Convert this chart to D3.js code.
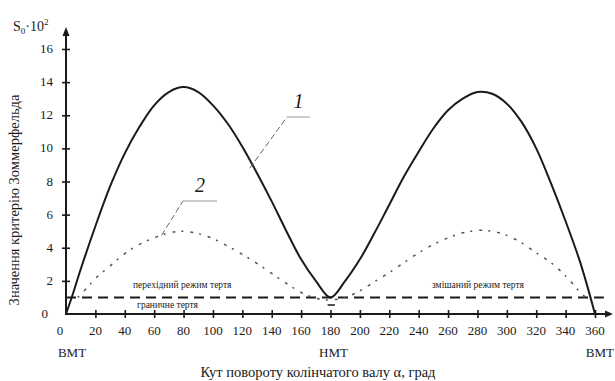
<!DOCTYPE html>
<html><head><meta charset="utf-8">
<script src="https://cdn.jsdelivr.net/npm/d3@7"></script>
<style>body{margin:0;background:#fff} svg text{font-family:"Liberation Serif","Times New Roman",Times,"DejaVu Serif",serif}</style>
</head><body><svg id="c" width="615" height="381"></svg>
<script>
// Data
const angles1 = [0,5,10,20,30,40,50,60,70,80,90,100,110,120,130,140,150,160,170,180,190,200,210,220,230,240,250,260,270,280,290,300,310,320,330,340,350,360];
const sommer1 = [0,1.3,2.7,5.3,7.7,9.7,11.3,12.6,13.4,13.7,13.4,12.6,11.5,10.1,8.5,6.8,5.0,3.3,2.0,1.0,2.0,3.3,4.9,6.6,8.3,9.8,11.2,12.3,13.0,13.4,13.3,12.7,11.6,10.0,7.9,5.6,3.1,0];
const angles2 = [8,15,20,30,40,50,60,70,80,90,100,110,120,130,140,150,160,170,180,190,200,210,220,230,240,250,260,270,280,290,300,310,320,330,340,350,355];
const sommer2 = [1.0,1.65,2.15,2.9,3.65,4.2,4.6,4.9,5.0,4.85,4.55,4.1,3.6,3.05,2.45,1.85,1.3,0.95,0.85,1.0,1.4,1.95,2.5,3.1,3.7,4.2,4.6,4.9,5.05,5.0,4.75,4.3,3.7,3.1,2.3,1.3,0.9];
const boundary = 1.0;
const xTicks = [0,20,40,60,80,100,120,140,160,180,200,220,240,260,280,300,320,340,360];
const yTicks = [0,2,4,6,8,10,12,14,16];
const pointLabels = [{a:0,t:"ВМТ"},{a:180,t:"НМТ"},{a:360,t:"ВМТ"}];

const svg = d3.select("#c");
const x = d3.scaleLinear().domain([0,360]).range([66,595]);
const y = d3.scaleLinear().domain([0,16]).range([314,49]);
const ink = "#1a1a1a";

// axes
const xAxis = svg.append("g").attr("transform",`translate(0,${y(0)})`)
  .call(d3.axisBottom(x).tickValues(xTicks.filter(d=>d>0)).tickSize(0).tickFormat(""));
xAxis.select(".domain").remove();
xAxis.selectAll(".tick").append("line").attr("y1",-4).attr("y2",4).attr("stroke",ink).attr("stroke-width",1.6);
const yAxis = svg.append("g").attr("transform",`translate(${x(0)},0)`)
  .call(d3.axisLeft(y).tickValues(yTicks.filter(d=>d>0)).tickSize(0).tickFormat(""));
yAxis.select(".domain").remove();
yAxis.selectAll(".tick").append("line").attr("x1",-4).attr("x2",4).attr("stroke",ink).attr("stroke-width",1.6);

svg.append("line").attr("x1",x(0)).attr("x2",610).attr("y1",y(0)).attr("y2",y(0)).attr("stroke",ink).attr("stroke-width",2);
svg.append("path").attr("d",`M613,${y(0)} l-8,-3.5 l0,7 z`).attr("fill",ink);
svg.append("line").attr("x1",x(0)).attr("x2",x(0)).attr("y1",y(0)+1).attr("y2",30).attr("stroke",ink).attr("stroke-width",2);
svg.append("path").attr("d",`M${x(0)},27 l-3.5,9 l7,0 z`).attr("fill",ink);

function txt(){ return svg.append("text").attr("fill",ink); }

// tick labels
svg.selectAll(".xl").data(xTicks).enter().append("text")
  .attr("x",d=>d===0?x(d)-6:x(d)).attr("y",335).attr("text-anchor","middle")
  .attr("font-size",13).attr("fill",ink).text(d=>d);
svg.selectAll(".yl").data(yTicks).enter().append("text")
  .attr("x",d=>d===0?48:53).attr("y",d=>y(d)+4).attr("text-anchor","end")
  .attr("font-size",13).attr("fill",ink).text(d=>d);
svg.selectAll(".pl").data(pointLabels).enter().append("text")
  .attr("x",d=>d.a===360?614:(d.a===0?x(d.a)+6:x(d.a)+3)).attr("y",357)
  .attr("text-anchor",d=>d.a===360?"end":"middle").attr("font-size",13).attr("fill",ink).text(d=>d.t);

// titles
txt().attr("x",318).attr("y",377).attr("text-anchor","middle").attr("font-size",14.5)
  .text("Кут повороту колінчатого валу α, град");
txt().attr("transform","translate(19,200) rotate(-90)").attr("text-anchor","middle").attr("font-size",14.5)
  .text("Значення критерію Зоммерфельда");
const st = txt().attr("x",13).attr("y",31).attr("font-size",14);
st.append("tspan").text("S");
st.append("tspan").attr("font-size",9).attr("dy",3).text("0");
st.append("tspan").attr("dy",-3).text("·10");
st.append("tspan").attr("font-size",9).attr("dy",-6).text("2");

// boundary dashed line
svg.append("line").attr("x1",x(0)).attr("x2",x(366)).attr("y1",y(boundary)).attr("y2",y(boundary))
  .attr("stroke",ink).attr("stroke-width",2).attr("stroke-dasharray","10,6");

// curves
const line = d3.line().x(d=>x(d[0])).y(d=>y(d[1])).curve(d3.curveCatmullRom.alpha(0.5));
svg.append("path").datum(angles2.map((a,i)=>[a,sommer2[i]])).attr("d",line)
  .attr("fill","none").attr("stroke","#555").attr("stroke-width",1.5).attr("stroke-dasharray","2,7,3,6");
svg.append("path").datum(angles1.map((a,i)=>[a,sommer1[i]])).attr("d",line)
  .attr("fill","none").attr("stroke",ink).attr("stroke-width",2);

// regime labels
txt().attr("x",133).attr("y",288).attr("font-size",9.5).text("перехідний режим тертя");
txt().attr("x",137).attr("y",308).attr("font-size",9.5).text("граничне тертя");
txt().attr("x",432).attr("y",288).attr("font-size",9.5).text("змішаний режим тертя");
svg.append("line").attr("x1",x(178)).attr("x2",x(183)).attr("y1",305).attr("y2",305).attr("stroke",ink).attr("stroke-width",1.5);

// curve callouts
const callouts = [{t:"1",a:125,v:sommer1[13]-1.3,lx:287,ly:117,len:23},{t:"2",a:65,v:4.75,lx:183,ly:201,len:34}];
callouts.forEach(c=>{
  svg.append("line").attr("x1",x(c.a)).attr("y1",y(c.v)).attr("x2",c.lx).attr("y2",c.ly)
    .attr("stroke","#666").attr("stroke-width",1).attr("stroke-dasharray","6,3");
  svg.append("line").attr("x1",c.lx).attr("y1",c.ly).attr("x2",c.lx+c.len).attr("y2",c.ly)
    .attr("stroke","#999").attr("stroke-width",1);
  txt().attr("x",c.lx+c.len/2).attr("y",c.ly-9).attr("text-anchor","middle")
    .attr("font-size",20).attr("font-style","italic").text(c.t);
});
</script></body></html>
